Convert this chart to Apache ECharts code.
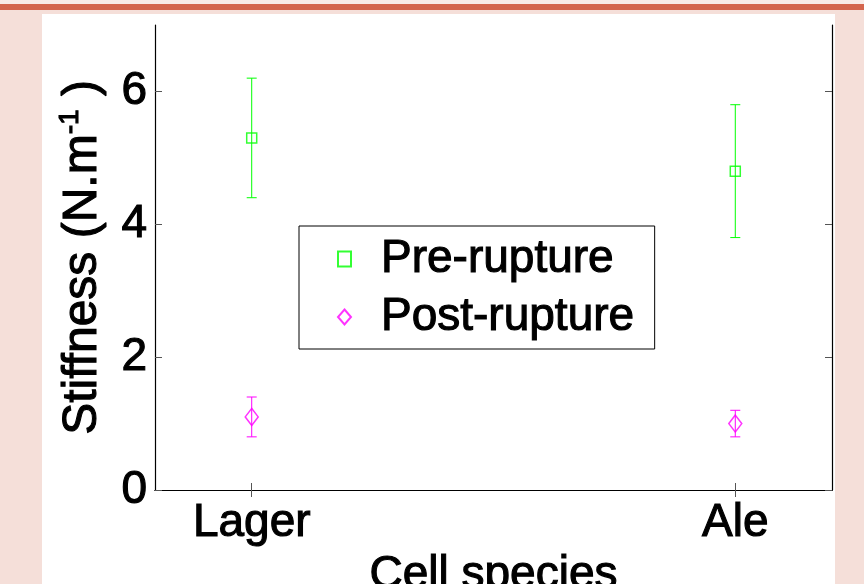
<!DOCTYPE html>
<html>
<head>
<meta charset="utf-8">
<script src="https://cdn.jsdelivr.net/npm/echarts@6/dist/echarts.min.js"></script>
<style>
html,body{margin:0;padding:0;background:#f5dfd9;overflow:hidden;}
#chart{width:864px;height:584px;}
</style>
</head>
<body>
<div id="chart"></div>
<script>
const categories = ['Lager', 'Ale'];
const catPos = [1, 2];
const preMean = [5.3, 4.8];
const preLow = [4.4, 3.8];
const preHigh = [6.2, 5.8];
const postMean = [1.1, 1.0];
const postLow = [0.8, 0.8];
const postHigh = [1.4, 1.2];
const yTicks = [0, 2, 4, 6];

const FONT = '"Liberation Sans", Arial, sans-serif';
const GREEN = '#00ff00';
const MAGENTA = '#ff00ff';
const heavy = { textBorderColor: '#000', textBorderWidth: 1.1 };

function errData(low, high) {
  return catPos.map((x, i) => [x, low[i], high[i]]);
}
function pointData(mean) {
  return catPos.map((x, i) => [x, mean[i]]);
}
function errRender(color) {
  return function (params, api) {
    const x = api.value(0);
    const lo = api.coord([x, api.value(1)]);
    const hi = api.coord([x, api.value(2)]);
    const w = 5;
    const st = { stroke: color, lineWidth: 1 };
    return {
      type: 'group',
      children: [
        { type: 'line', shape: { x1: lo[0], y1: lo[1], x2: hi[0], y2: hi[1] }, style: st },
        { type: 'line', shape: { x1: hi[0] - w, y1: hi[1], x2: hi[0] + w, y2: hi[1] }, style: st },
        { type: 'line', shape: { x1: lo[0] - w, y1: lo[1], x2: lo[0] + w, y2: lo[1] }, style: st }
      ]
    };
  };
}

const tickStyle = { show: true, inside: true, length: 7, lineStyle: { color: '#555', width: 1 } };
const lineStyle = { show: true, lineStyle: { color: '#000', width: 1.2 } };

const chart = echarts.init(document.getElementById('chart'));
chart.setOption({
  animation: false,
  backgroundColor: '#f5dfd9',
  graphic: [
    { type: 'rect', shape: { x: 0, y: 0, width: 864, height: 4 }, style: { fill: '#f9ebe7' }, z: -10 },
    { type: 'rect', shape: { x: 0, y: 4, width: 864, height: 6 }, style: { fill: '#d4654d' }, z: -10 },
    { type: 'rect', shape: { x: 42, y: 14, width: 793, height: 570 }, style: { fill: '#ffffff' }, z: -10 }
  ],
  grid: { left: 155, right: 32, top: 25, bottom: 94, containLabel: false, outerBoundsMode: 'none' },
  legend: {
    orient: 'vertical',
    left: 299,
    top: 226,
    padding: [7, 20, 6, 38],
    itemGap: 6,
    itemWidth: 13,
    itemHeight: 15,
    backgroundColor: '#fff',
    borderColor: '#000',
    borderWidth: 1,
    selectedMode: false,
    textStyle: Object.assign({ fontFamily: FONT, fontSize: 46, color: '#000', lineHeight: 52, padding: [0, 0, 0, 25] }, heavy),
    data: ['Pre-rupture', 'Post-rupture']
  },
  xAxis: [
    {
      type: 'value', min: 0.8, max: 2.2, position: 'bottom',
      axisLine: lineStyle,
      axisTick: Object.assign({ customValues: catPos }, tickStyle),
      axisLabel: Object.assign({
        customValues: catPos, margin: 10,
        fontFamily: FONT, fontSize: 46, color: '#000',
        formatter: v => categories[catPos.indexOf(Math.round(v))] || ''
      }, heavy),
      splitLine: { show: false },
      name: 'Cell species', nameLocation: 'middle', nameGap: 54,
      nameTextStyle: Object.assign({ fontFamily: FONT, fontSize: 46, color: '#000' }, heavy)
    },
    {
      type: 'value', min: 0.8, max: 2.2, position: 'top',
      axisLine: lineStyle,
      axisTick: Object.assign({ customValues: catPos }, tickStyle),
      axisLabel: { show: false },
      splitLine: { show: false }
    }
  ],
  yAxis: [
    {
      type: 'value', min: 0, max: 7, position: 'left',
      axisLine: lineStyle,
      axisTick: Object.assign({ customValues: yTicks }, tickStyle),
      axisLabel: Object.assign({ customValues: yTicks, margin: 8, fontFamily: FONT, fontSize: 46, color: '#000' }, heavy),
      splitLine: { show: false },
      name: 'Stiffness (N.m{sup|-1} )', nameLocation: 'middle', nameGap: 36, nameRotate: 90,
      nameTextStyle: Object.assign({
        fontFamily: FONT, fontSize: 48, color: '#000', lineHeight: 54,
        rich: { sup: Object.assign({ fontFamily: FONT, fontSize: 28, color: '#000', verticalAlign: 'top', lineHeight: 54 }, heavy) }
      }, heavy)
    },
    {
      type: 'value', min: 0, max: 7, position: 'right',
      axisLine: lineStyle,
      axisTick: Object.assign({ customValues: yTicks }, tickStyle),
      axisLabel: { show: false },
      splitLine: { show: false }
    }
  ],
  series: [
    {
      type: 'custom', name: 'preErr', xAxisIndex: 0, yAxisIndex: 0,
      renderItem: errRender(GREEN), data: errData(preLow, preHigh), silent: true, z: 1
    },
    {
      type: 'custom', name: 'postErr', xAxisIndex: 0, yAxisIndex: 0,
      renderItem: errRender(MAGENTA), data: errData(postLow, postHigh), silent: true, z: 1
    },
    {
      type: 'scatter', name: 'Pre-rupture', symbol: 'rect', symbolSize: 10,
      itemStyle: { color: 'rgba(0,0,0,0)', borderColor: GREEN, borderWidth: 1.5 },
      emphasis: { disabled: true }, silent: true, z: 2,
      data: pointData(preMean)
    },
    {
      type: 'scatter', name: 'Post-rupture', symbol: 'diamond', symbolSize: [13, 17],
      itemStyle: { color: 'rgba(0,0,0,0)', borderColor: MAGENTA, borderWidth: 1.5 },
      emphasis: { disabled: true }, silent: true, z: 2,
      data: pointData(postMean)
    }
  ]
});
</script>
</body>
</html>
